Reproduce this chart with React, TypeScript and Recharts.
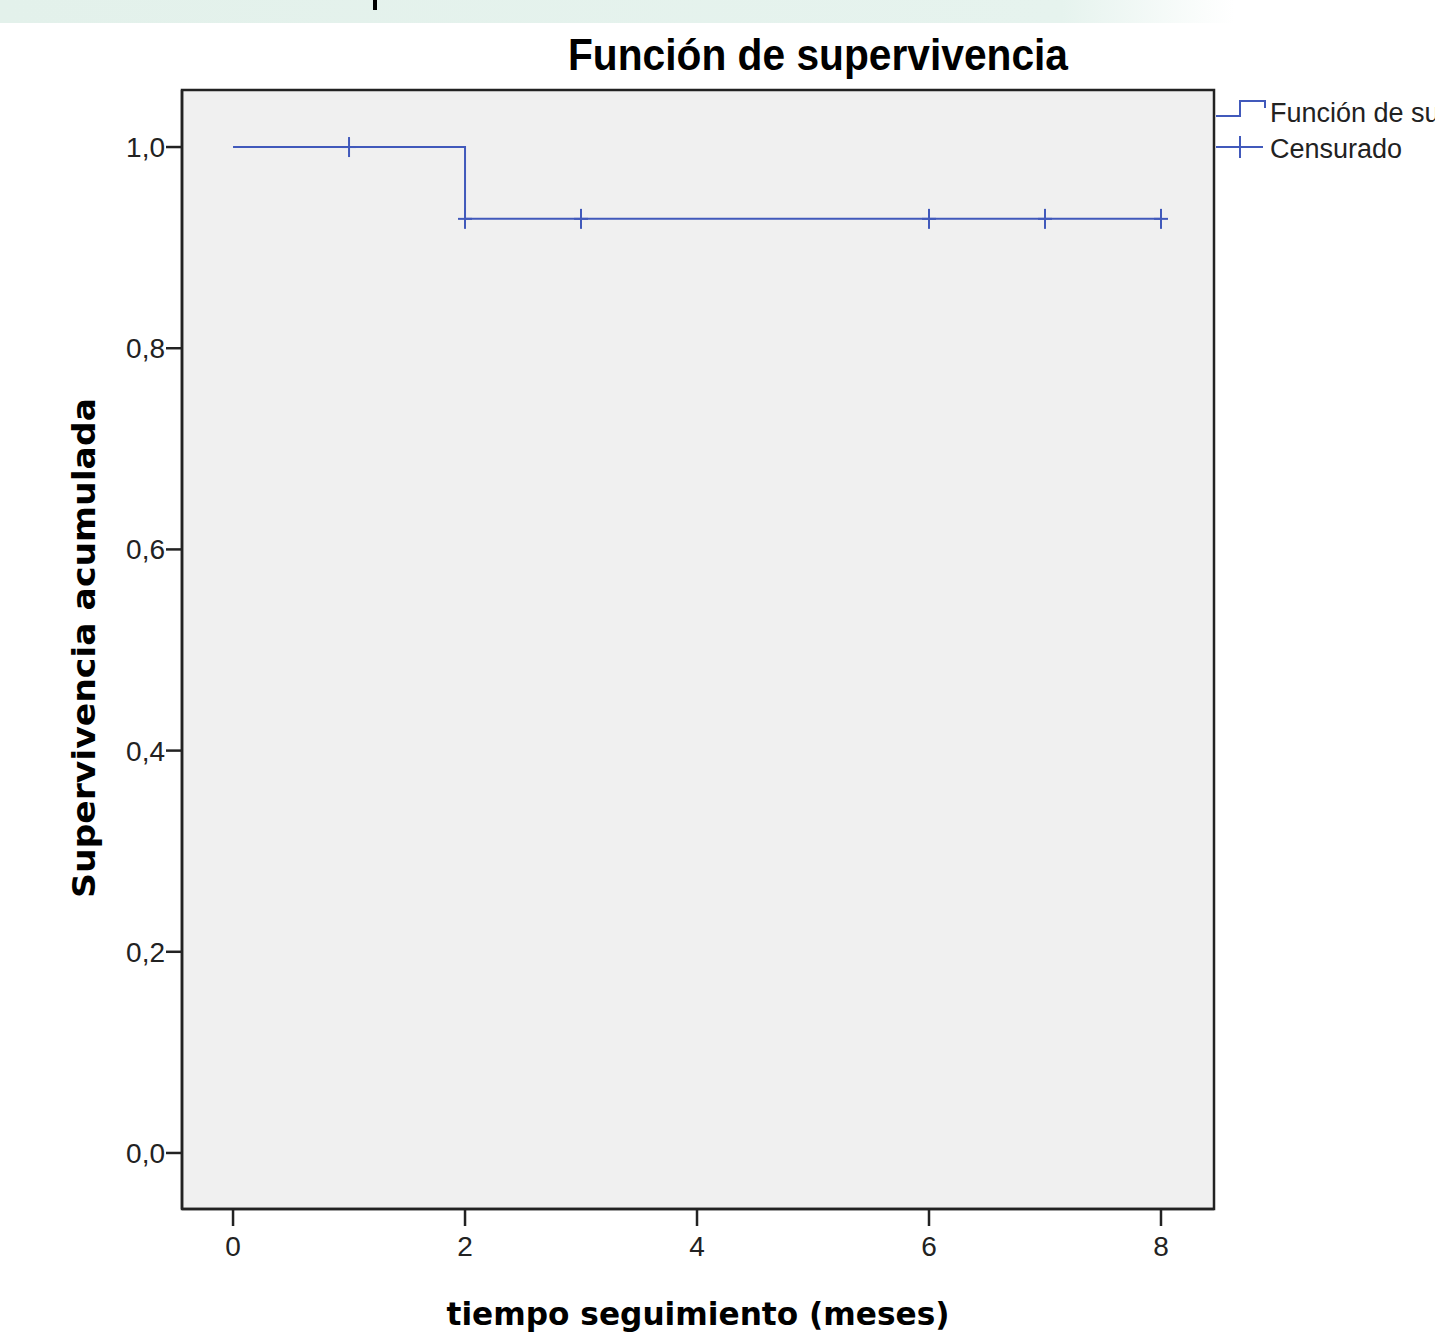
import React from "react";
import {
  ComposedChart,
  Line,
  Scatter,
  XAxis,
  YAxis,
  ReferenceArea,
  Label,
} from "recharts";

// Kaplan-Meier survival steps
const survivalTimes = [0, 2, 8];
const survivalValues = [1.0, 0.9286, 0.9286];
// Censored observations
const censorTimes = [1, 2, 3, 6, 7, 8];
const censorValues = [1.0, 0.9286, 0.9286, 0.9286, 0.9286, 0.9286];

const xTicks = [0, 2, 4, 6, 8];
const yTicks = [0, 0.2, 0.4, 0.6, 0.8, 1.0];

const titleText = "Función de supervivencia";
const xLabelText = "tiempo seguimiento (meses)";
const yLabelText = "Supervivencia acumulada";
const legendNames = ["Función de supervivencia", "Censurado"];

const survivalData = survivalTimes.map((t, i) => ({ t, s: survivalValues[i] }));
const censorData = censorTimes.map((t, i) => ({ t, s: censorValues[i] }));

const X_DOMAIN: [number, number] = [-0.44, 8.457];
const Y_DOMAIN: [number, number] = [-0.0557, 1.0567];

const BLUE = "#4159bb";
const INK = "#222";
const TICK_FONT = "'Liberation Sans', Arial, sans-serif";

const CensorMark = (props: any) => {
  const { cx, cy } = props;
  if (cx == null || cy == null) return null;
  return (
    <g>
      <line x1={cx - 7} y1={cy} x2={cx + 7} y2={cy} stroke={BLUE} strokeWidth={2} />
      <line x1={cx} y1={cy - 10} x2={cx} y2={cy + 10} stroke={BLUE} strokeWidth={2} />
    </g>
  );
};

const LegendBox = () => (
  <div
    style={{
      position: "absolute",
      left: 1214,
      top: 90,
      width: 221,
      height: 80,
      overflow: "hidden",
    }}
  >
    <svg width={221} height={80}>
      <polyline
        points="2,26 26,26 26,11 51,11 51,18"
        fill="none"
        stroke={BLUE}
        strokeWidth={2}
      />
      <text x={56} y={32} fontSize={27} fill={INK} fontFamily={TICK_FONT}>
        {legendNames[0]}
      </text>
      <line x1={2} y1={57} x2={49} y2={57} stroke={BLUE} strokeWidth={2} />
      <line x1={26} y1={46} x2={26} y2={68} stroke={BLUE} strokeWidth={2} />
      <text x={56} y={68} fontSize={27} fill={INK} fontFamily={TICK_FONT}>
        {legendNames[1]}
      </text>
    </svg>
  </div>
);

const fmt = (v: number) => v.toFixed(1).replace(".", ",");

export default function App() {
  return (
    <div
      style={{
        position: "absolute",
        left: 0,
        top: 0,
        width: 1435,
        height: 1332,
        background: "#fff",
        overflow: "hidden",
      }}
    >
      <div
        style={{
          position: "absolute",
          left: 0,
          top: 0,
          width: 1435,
          height: 23,
          background:
            "linear-gradient(to right, #e3f1eb 0%, #e6f3ee 74%, #ffffff 86%, #ffffff 100%)",
        }}
      />
      <div
        style={{
          position: "absolute",
          left: 373,
          top: 0,
          width: 4,
          height: 10,
          background: "#000",
        }}
      />
      <svg
        width={1435}
        height={90}
        style={{ position: "absolute", left: 0, top: 0 }}
      >
        <text
          x={818}
          y={70}
          textAnchor="middle"
          fontSize={44}
          fontWeight="bold"
          fontFamily={TICK_FONT}
          fill="#000"
          textLength={500}
          lengthAdjust="spacingAndGlyphs"
        >
          {titleText}
        </text>
      </svg>
      <div style={{ position: "absolute", left: 0, top: 0 }}>
        <ComposedChart
          width={1435}
          height={1332}
          margin={{ top: 90, right: 221, bottom: 63, left: 122 }}
        >
          <ReferenceArea
            x1={X_DOMAIN[0]}
            x2={X_DOMAIN[1]}
            y1={Y_DOMAIN[0]}
            y2={Y_DOMAIN[1]}
            fill="#f0f0f0"
            fillOpacity={1}
            stroke={INK}
            strokeWidth={2.5}
            ifOverflow="visible"
          />
          <XAxis
            type="number"
            dataKey="t"
            domain={X_DOMAIN}
            ticks={xTicks}
            allowDataOverflow
            height={60}
            tickSize={17}
            tickMargin={10}
            axisLine={{ stroke: INK, strokeWidth: 2.5 }}
            tickLine={{ stroke: INK, strokeWidth: 2.5 }}
            tick={{ fill: INK, fontSize: 28, fontFamily: TICK_FONT }}
          >
            <Label
              content={() => (
                <text
                  x={698}
                  y={1325}
                  textAnchor="middle"
                  fontSize={32}
                  fontWeight="bold"
                  fontFamily="'DejaVu Sans', Verdana, sans-serif"
                  fill="#000"
                  textLength={503}
                  lengthAdjust="spacingAndGlyphs"
                >
                  {xLabelText}
                </text>
              )}
            />
          </XAxis>
          <YAxis
            type="number"
            dataKey="s"
            domain={Y_DOMAIN}
            ticks={yTicks}
            allowDataOverflow
            width={60}
            tickSize={16}
            tickMargin={1}
            tickFormatter={fmt}
            axisLine={{ stroke: INK, strokeWidth: 2.5 }}
            tickLine={{ stroke: INK, strokeWidth: 2.5 }}
            tick={{ fill: INK, fontSize: 28, fontFamily: TICK_FONT }}
          >
            <Label
              content={() => (
                <text
                  x={0}
                  y={0}
                  transform="translate(95,648) rotate(-90)"
                  textAnchor="middle"
                  fontSize={32}
                  fontWeight="bold"
                  fontFamily="'DejaVu Sans', Verdana, sans-serif"
                  fill="#000"
                  textLength={500}
                  lengthAdjust="spacingAndGlyphs"
                >
                  {yLabelText}
                </text>
              )}
            />
          </YAxis>
          <Line
            data={survivalData}
            dataKey="s"
            type="stepAfter"
            stroke={BLUE}
            strokeWidth={2}
            dot={false}
            activeDot={false}
            isAnimationActive={false}
            name={legendNames[0]}
          />
          <Scatter
            data={censorData}
            dataKey="s"
            shape={<CensorMark />}
            isAnimationActive={false}
            name={legendNames[1]}
          />
        </ComposedChart>
      </div>
      <LegendBox />
    </div>
  );
}
